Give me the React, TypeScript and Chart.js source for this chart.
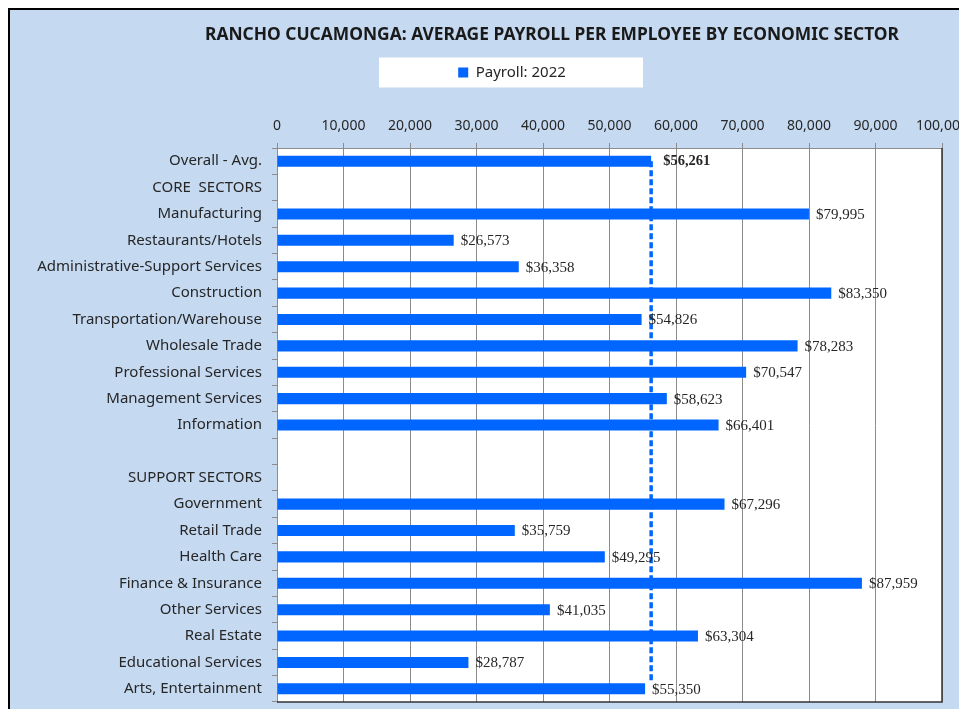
import React, { useEffect, useRef } from "react";
import { Chart, registerables } from "chart.js";

Chart.register(...registerables);

const chartTitle = "RANCHO CUCAMONGA: AVERAGE PAYROLL PER EMPLOYEE BY ECONOMIC SECTOR";
const seriesName = "Payroll: 2022";

const categories = [
  "Overall - Avg.",
  "CORE  SECTORS",
  "Manufacturing",
  "Restaurants/Hotels",
  "Administrative-Support Services",
  "Construction",
  "Transportation/Warehouse",
  "Wholesale Trade",
  "Professional Services",
  "Management Services",
  "Information",
  "",
  "SUPPORT SECTORS",
  "Government",
  "Retail Trade",
  "Health Care",
  "Finance & Insurance",
  "Other Services",
  "Real Estate",
  "Educational Services",
  "Arts, Entertainment",
];

const payroll2022: (number | null)[] = [
  56261, null, 79995, 26573, 36358, 83350, 54826, 78283, 70547, 58623, 66401,
  null, null, 67296, 35759, 49295, 87959, 41035, 63304, 28787, 55350,
];

const overallAverage = 56261;
const avgLineFrom = "Overall - Avg.";
const avgLineTo = "Arts, Entertainment";

const xMin = 0;
const xMax = 100000;
const xStep = 10000;

const BLUE = "#0066ff";
const TEXT = "#262626";

const fmtMoney = (v: number) => "$" + v.toLocaleString("en-US");

const LEGEND_SHIFT = 31;

const decorPlugin = {
  id: "decor",
  afterLayout(chart: any) {
    const lg = chart.legend;
    if (lg) {
      lg.left += LEGEND_SHIFT;
      lg.right += LEGEND_SHIFT;
    }
  },
  beforeDraw(chart: any) {
    const { ctx, chartArea: a } = chart;
    ctx.save();
    ctx.fillStyle = "#ffffff";
    ctx.fillRect(a.left, a.top, a.right - a.left, a.bottom - a.top);
    const lg = chart.legend;
    if (lg && lg.legendHitBoxes && lg.legendHitBoxes.length) {
      const hb = lg.legendHitBoxes[0];
      const cx = hb.left + hb.width / 2;
      const cy = hb.top + hb.height / 2;
      ctx.fillRect(cx - 133, cy - 15, 264, 30);
    }
    ctx.restore();
  },
  afterDraw(chart: any) {
    const { ctx, chartArea: a } = chart;
    const xs = chart.scales.x;
    const ys = chart.scales.y;
    ctx.save();
    // title
    ctx.fillStyle = "#1a1a1a";
    ctx.font = "bold 17.4px 'Noto Sans'";
    ctx.textAlign = "center";
    ctx.textBaseline = "middle";
    ctx.fillText(chartTitle, 542, 25);

    // dark right & bottom plot borders
    ctx.strokeStyle = "#333333";
    ctx.lineWidth = 1.5;
    ctx.beginPath();
    ctx.moveTo(a.right, a.top);
    ctx.lineTo(a.right, a.bottom);
    ctx.lineTo(a.left, a.bottom);
    ctx.stroke();

    // average dashed line
    const ax = xs.getPixelForValue(overallAverage);
    const y0 = ys.getPixelForValue(categories.indexOf(avgLineFrom));
    const y1 = ys.getPixelForValue(categories.indexOf(avgLineTo));
    ctx.strokeStyle = BLUE;
    ctx.lineWidth = 3.5;
    ctx.setLineDash([6, 3]);
    ctx.beginPath();
    ctx.moveTo(ax, y0);
    ctx.lineTo(ax, y1 - 8);
    ctx.stroke();
    ctx.setLineDash([]);

    // value labels
    const meta = chart.getDatasetMeta(0);
    ctx.textAlign = "left";
    ctx.textBaseline = "middle";
    ctx.fillStyle = TEXT;
    meta.data.forEach((bar: any, i: number) => {
      const v = payroll2022[i];
      if (v == null) return;
      if (i === 0) {
        ctx.font = "bold 14.5px 'Liberation Serif'";
        ctx.fillText(fmtMoney(v), bar.x + 12, bar.y);
      } else {
        ctx.font = "15px 'Liberation Serif'";
        ctx.fillText(fmtMoney(v), bar.x + 7, bar.y + 1);
      }
    });
    ctx.restore();
  },
};

export default function App() {
  const ref = useRef<HTMLCanvasElement | null>(null);

  useEffect(() => {
    document.documentElement.style.overflow = "hidden";
    document.body.style.overflow = "hidden";
    const canvas = ref.current;
    if (!canvas) return;
    const PAD_TOP = 45;
    const PLOT_TOP = 138;
    const chart = new Chart(canvas, {
      type: "bar",
      data: {
        labels: categories,
        datasets: [
          {
            label: seriesName,
            data: payroll2022,
            backgroundColor: BLUE,
            borderWidth: 0,
            barPercentage: 0.42,
            categoryPercentage: 1,
          },
        ],
      },
      options: {
        indexAxis: "y",
        animation: false,
        responsive: false,
        maintainAspectRatio: false,
        layout: { padding: { top: PAD_TOP, left: 10, right: 25, bottom: 7 } },
        plugins: {
          title: { display: false },
          tooltip: { enabled: false },
          legend: {
            display: true,
            position: "top",
            labels: {
              boxWidth: 10,
              boxHeight: 10,
              padding: 10,
              color: TEXT,
              font: { family: "'Noto Sans'", size: 15 },
            },
          },
        },
        scales: {
          x: {
            position: "top",
            min: xMin,
            max: xMax,
            z: 1,
            afterFit(scale: any) {
              const lgH = scale.chart.legend ? scale.chart.legend.height : 0;
              scale.height = PLOT_TOP - PAD_TOP - lgH;
              scale.paddingLeft = 0;
              scale.paddingRight = 0;
            },
            ticks: {
              stepSize: xStep,
              padding: 9,
              color: TEXT,
              font: { family: "'Noto Sans'", size: 14 },
              callback: (v: any) => Number(v).toLocaleString("en-US"),
            },
            grid: { color: "#8c8c8c", lineWidth: 1, tickLength: 5 },
            border: { color: "#8c8c8c" },
          },
          y: {
            afterFit(scale: any) {
              scale.width = 257;
              scale.paddingTop = 0;
              scale.paddingBottom = 0;
            },
            ticks: {
              padding: 10,
              autoSkip: false,
              color: TEXT,
              font: { family: "'Noto Sans'", size: 15 },
            },
            grid: { drawOnChartArea: false, tickLength: 5, color: "#8c8c8c" },
            border: { color: "#8c8c8c" },
          },
        },
      },
      plugins: [decorPlugin],
    });
    return () => chart.destroy();
  }, []);

  return (
    <div
      style={{
        width: 957,
        height: 699,
        borderTop: "2px solid #000",
        borderLeft: "2px solid #000",
        background: "#c5d9f1",
      }}
    >
      <canvas ref={ref} width={957} height={699} style={{ display: "block" }} />
    </div>
  );
}
